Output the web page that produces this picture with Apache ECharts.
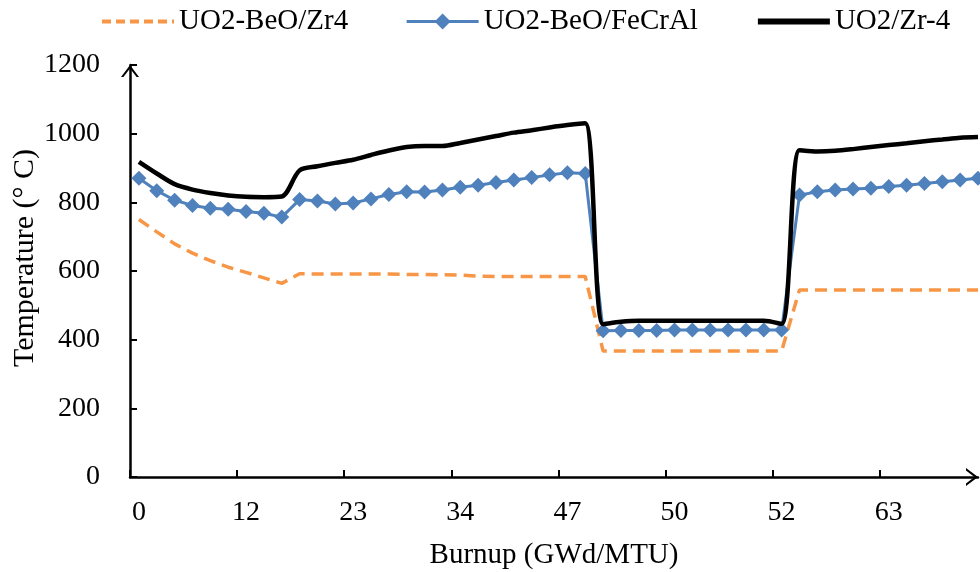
<!DOCTYPE html>
<html>
<head>
<meta charset="utf-8">
<script src="https://cdn.jsdelivr.net/npm/echarts@6/dist/echarts.min.js"></script>
<style>
  html, body { margin: 0; padding: 0; background: #fff; }
  #container { width: 980px; height: 572px; }
</style>
</head>
<body>
<div id="container"></div>
<script>
var myChart = echarts.init(document.getElementById("container"));

// one label every 6 points
var tickLabels = ['0', '12', '23', '34', '47', '50', '52', '63'];

var zr4 = [750, 714, 679, 652, 630, 611, 596, 580, 564, 592, 591, 591, 591, 591, 591, 590,
    590, 589, 588, 585, 584, 584, 584, 584, 584, 584,
    367, 367, 367, 367, 367, 367, 367, 367, 367, 367, 367,
    545, 545, 545, 545, 545, 545, 545, 545, 545, 545, 545];

var fecral = [870, 834, 806, 791, 783, 780, 773, 768, 757, 808, 804, 795, 798, 810, 823, 831,
    830, 836, 844, 850, 858, 865, 872, 880, 886, 884,
    426, 427, 427, 427, 428, 428, 428, 428, 428, 428, 428,
    821, 831, 836, 839, 841, 846, 850, 855, 860, 865, 870];

var zr4ref = [918, 884, 853, 837, 827, 820, 816, 815, 817, 893, 905, 915, 924, 938, 951, 961,
    964, 964, 973, 983, 993, 1003, 1010, 1018, 1025, 1030,
    445, 452, 455, 455, 455, 455, 455, 455, 455, 455, 446,
    952, 948, 950, 955, 961, 967, 972, 978, 983, 988, 990];

function pairs(arr) {
    return arr.map(function (v, i) { return [i, v]; });
}

// labelled points and the tick marks half a step before them
var labelAt = tickLabels.map(function (t, k) { return k * 6; });
var tickAt = tickLabels.map(function (t, k) { return k * 6 - 0.5; });

var font = 'Liberation Serif';
var chevron = 'path://M0,12 L9,0 L18,12 L15.6,12 L9,3.6 L2.4,12 Z';

option = {
    animation: false,
    backgroundColor: '#fff',
    textStyle: { fontFamily: font, color: '#000' },
    legend: {
        left: 95,
        top: 2,
        itemWidth: 72,
        itemHeight: 20,
        itemGap: 57,
        textStyle: { fontFamily: font, fontSize: 29, color: '#000' },
        data: [
            { name: 'UO2-BeO/Zr4', itemStyle: { opacity: 0 }, lineStyle: { width: 4, type: [9, 5] } },
            { name: 'UO2-BeO/FeCrAl', lineStyle: { width: 3 } },
            { name: 'UO2/Zr-4', itemStyle: { opacity: 0 }, lineStyle: { width: 6 } }
        ]
    },
    grid: { left: 130, right: 2, top: 65, bottom: 95, outerBoundsMode: 'none' },
    xAxis: {
        type: 'value',
        min: -0.5,
        max: 47,
        name: 'Burnup (GWd/MTU)',
        nameLocation: 'middle',
        nameGap: 64,
        nameMoveOverlap: false,
        nameTextStyle: { fontFamily: font, fontSize: 29, color: '#000' },
        axisLine: {
            onZero: false,
            lineStyle: { color: '#000', width: 2.5 },
            symbol: ['none', chevron],
            symbolSize: [18, 12],
            symbolOffset: [0, -6]
        },
        axisTick: {
            show: true, inside: true, length: 7, customValues: tickAt,
            lineStyle: { color: '#000', width: 2 }
        },
        axisLabel: {
            fontFamily: font,
            fontSize: 28,
            color: '#000',
            margin: 22,
            customValues: labelAt,
            formatter: function (val) {
                return tickLabels[Math.round(val / 6)] || '';
            }
        },
        splitLine: { show: false }
    },
    yAxis: {
        type: 'value',
        min: 0,
        max: 1200,
        interval: 200,
        name: 'Temperature (° C)',
        nameLocation: 'middle',
        nameGap: 90,
        nameMoveOverlap: false,
        nameTextStyle: { fontFamily: font, fontSize: 30, color: '#000', padding: [0, 0, 0, 26] },
        axisLine: {
            show: true,
            onZero: false,
            lineStyle: { color: '#000', width: 2.5 },
            symbol: ['none', chevron],
            symbolSize: [18, 12],
            symbolOffset: [0, -6]
        },
        axisTick: { show: true, inside: true, length: 7, lineStyle: { color: '#000', width: 2 } },
        axisLabel: {
            fontFamily: font, fontSize: 28, color: '#000', margin: 30,
            formatter: function (val) { return String(val); }
        },
        splitLine: { show: false }
    },
    series: [
        {
            name: 'UO2-BeO/Zr4',
            type: 'line',
            symbol: 'none',
            z: 2,
            itemStyle: { color: '#F79646' },
            lineStyle: { color: '#F79646', width: 3.5, type: [12, 7] },
            data: pairs(zr4)
        },
        {
            name: 'UO2-BeO/FeCrAl',
            type: 'line',
            symbol: 'diamond',
            symbolSize: 15,
            z: 3,
            itemStyle: { color: '#4F81BD' },
            lineStyle: { color: '#4F81BD', width: 3 },
            data: pairs(fecral)
        },
        {
            name: 'UO2/Zr-4',
            type: 'line',
            symbol: 'none',
            smooth: 0.3,
            z: 4,
            itemStyle: { color: '#000' },
            lineStyle: { color: '#000', width: 4.5 },
            data: pairs(zr4ref)
        }
    ]
};
myChart.setOption(option);
</script>
</body>
</html>
